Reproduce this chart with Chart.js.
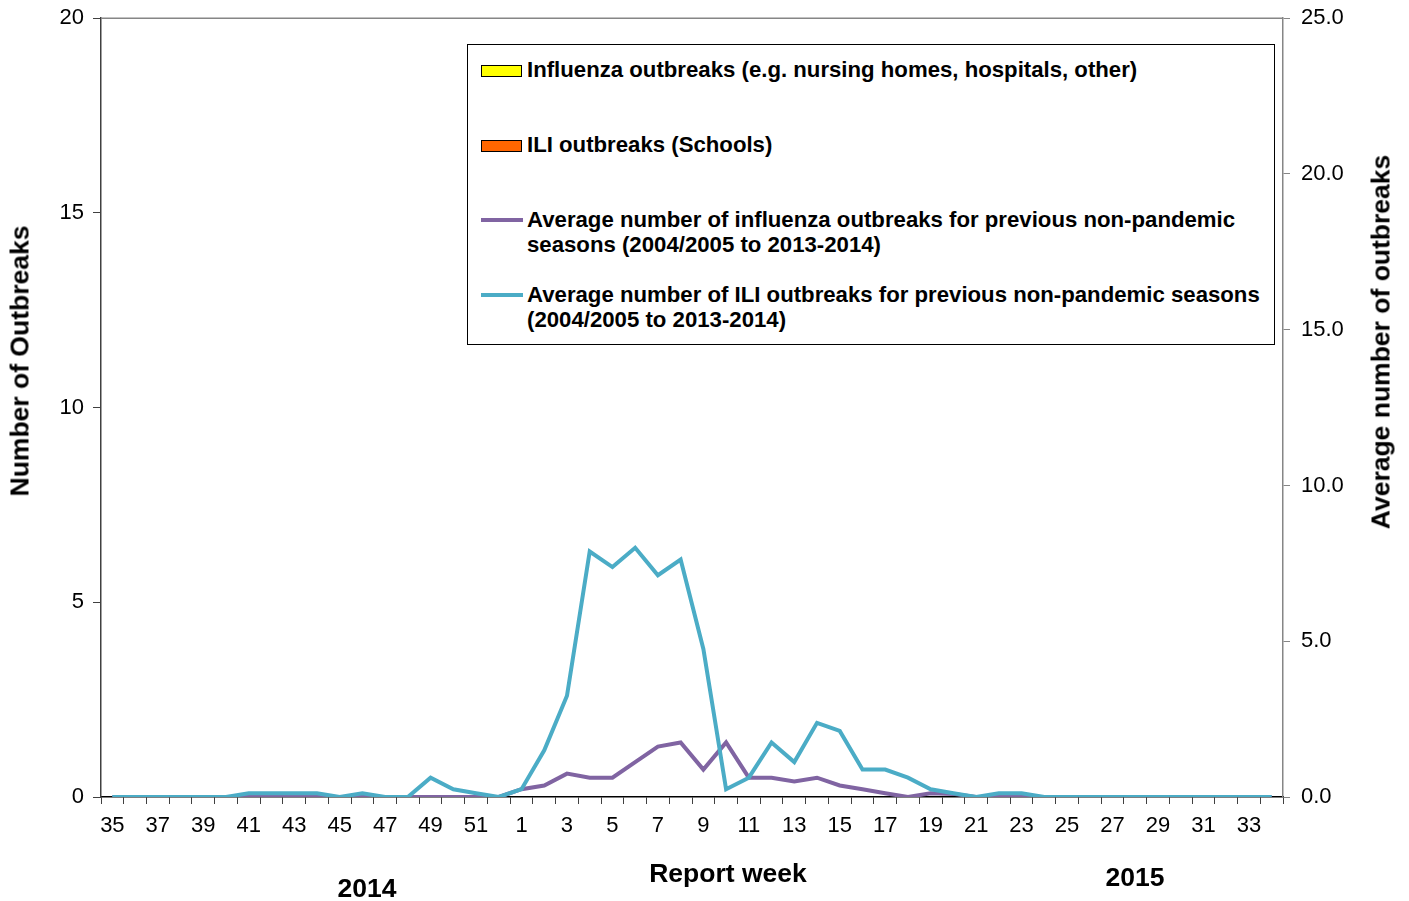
<!DOCTYPE html>
<html>
<head>
<meta charset="utf-8">
<title>Outbreaks by report week</title>
<script src="https://cdn.jsdelivr.net/npm/chart.js@4"></script>
<style>
  body { margin: 0; background: #fff; font-family: "Liberation Sans", Arial, sans-serif; overflow: hidden; }
  #wrap { position: relative; width: 1409px; height: 901px; overflow: hidden; }
  #myChart { position: absolute; left: 0; top: -6px; }
  .lbl { position: absolute; font-weight: bold; color: #000; white-space: nowrap; font-size: 26.5px; }
  .rot { transform: translate(-50%, -50%) rotate(-90deg); }
  .ctr { transform: translate(-50%, -50%); }
  #legendBox { position: absolute; left: 467px; top: 44px; width: 806px; height: 299px; border: 1px solid #000; background: #fff; }
  .item { position: absolute; left: 59px; font-size: 22.2px; font-weight: bold; line-height: 25px; }
  .swatch { position: absolute; left: 13px; width: 39px; height: 10px; border: 1px solid #000; }
  .line { position: absolute; left: 13px; width: 42px; height: 4px; }
</style>
</head>
<body>
<div id="wrap">
  <canvas id="myChart" width="1409" height="907"></canvas>

  <div class="lbl rot" style="left:20px; top:361px;">Number of Outbreaks</div>
  <div class="lbl rot" style="left:1381px; top:342px;">Average number of outbreaks</div>
  <div class="lbl ctr" style="left:728px; top:873px;">Report week</div>
  <div class="lbl ctr" style="left:367px; top:888px;">2014</div>
  <div class="lbl ctr" style="left:1135px; top:877px;">2015</div>

  <div id="legendBox">
    <div class="swatch" style="top:20px; background:#ffff00;"></div>
    <div class="item" style="top:12px;" id="leg0"></div>
    <div class="swatch" style="top:95px; background:#ff6600;"></div>
    <div class="item" style="top:87px;" id="leg1"></div>
    <div class="line" style="top:173px; background:#8064a2;"></div>
    <div class="item" style="top:162px;" id="leg2"></div>
    <div class="line" style="top:248px; background:#4bacc6;"></div>
    <div class="item" style="top:237px;" id="leg3"></div>
  </div>
</div>

<script>
//* DATA *//
let weeks = [35, 36, 37, 38, 39, 40, 41, 42, 43, 44, 45, 46, 47, 48, 49, 50, 51, 52,
  1, 2, 3, 4, 5, 6, 7, 8, 9, 10, 11, 12, 13, 14, 15, 16, 17, 18, 19, 20,
  21, 22, 23, 24, 25, 26, 27, 28, 29, 30, 31, 32, 33, 34];

// current season counts (none reported)
let fluOutbreaks = [0, 0, 0, 0, 0, 0, 0, 0, 0, 0, 0, 0, 0, 0, 0, 0, 0, 0,
  0, 0, 0, 0, 0, 0, 0, 0, 0, 0, 0, 0, 0, 0, 0, 0, 0, 0, 0, 0,
  0, 0, 0, 0, 0, 0, 0, 0, 0, 0, 0, 0, 0, 0];
let iliOutbreaks = [0, 0, 0, 0, 0, 0, 0, 0, 0, 0, 0, 0, 0, 0, 0, 0, 0, 0,
  0, 0, 0, 0, 0, 0, 0, 0, 0, 0, 0, 0, 0, 0, 0, 0, 0, 0, 0, 0,
  0, 0, 0, 0, 0, 0, 0, 0, 0, 0, 0, 0, 0, 0];

// averages for previous seasons (right axis)
let avgFlu = [0, 0, 0, 0, 0, 0, 0, 0, 0, 0, 0, 0, 0, 0, 0, 0, 0, 0,
  0.25, 0.37, 0.75, 0.62, 0.62, 1.12, 1.62, 1.75, 0.88, 1.75, 0.62, 0.62, 0.5, 0.62, 0.37, 0.25, 0.12, 0, 0.12, 0.1,
  0, 0, 0, 0, 0, 0, 0, 0, 0, 0, 0, 0, 0, 0];
let avgIli = [0, 0, 0, 0, 0, 0, 0.12, 0.12, 0.12, 0.12, 0, 0.12, 0, 0, 0.62, 0.25, 0.12, 0,
  0.25, 1.5, 3.25, 7.88, 7.38, 8.0, 7.12, 7.62, 4.75, 0.25, 0.62, 1.75, 1.12, 2.38, 2.12, 0.88, 0.88, 0.62, 0.25, 0.12,
  0, 0.12, 0.12, 0, 0, 0, 0, 0, 0, 0, 0, 0, 0, 0];

let leftTicks = [0, 5, 10, 15, 20];
let rightTicks = [0, 5, 10, 15, 20, 25];

let seriesNames = [
  'Influenza outbreaks (e.g. nursing homes, hospitals, other)',
  'ILI outbreaks (Schools)',
  'Average number of influenza outbreaks for previous non-pandemic seasons (2004/2005 to 2013-2014)',
  'Average number of ILI outbreaks for previous non-pandemic seasons (2004/2005 to 2013-2014)'
];

//*LEGEND TEXT*//
document.getElementById('leg0').textContent = seriesNames[0];
document.getElementById('leg1').textContent = seriesNames[1];
document.getElementById('leg2').innerHTML = 'Average number of influenza outbreaks for previous non-pandemic<br>seasons (2004/2005 to 2013-2014)';
document.getElementById('leg3').innerHTML = 'Average number of ILI outbreaks for previous non-pandemic seasons<br>(2004/2005 to 2013-2014)';

//*TOP BORDER PLUGIN*//
let topBorder = {
  id: 'topBorder',
  afterDraw(chart) {
    let a = chart.chartArea;
    let c = chart.ctx;
    c.save();
    c.strokeStyle = '#868686';
    c.lineWidth = 1.5;
    c.beginPath();
    c.moveTo(a.left, a.top);
    c.lineTo(a.right, a.top);
    c.stroke();
    c.restore();
  }
};

let ctx = document.getElementById('myChart');
let tickFont = { family: 'Liberation Sans', size: 22 };

let chartObj = {
  type: 'bar',
  data: {
    labels: weeks,
    datasets: [
      {
        label: seriesNames[0],
        data: fluOutbreaks,
        backgroundColor: '#ffff00',
        borderColor: '#000',
        borderWidth: 1,
        yAxisID: 'y',
        stack: 'cur',
        order: 2
      },
      {
        label: seriesNames[1],
        data: iliOutbreaks,
        backgroundColor: '#ff6600',
        borderColor: '#000',
        borderWidth: 1,
        yAxisID: 'y',
        stack: 'cur',
        order: 2
      },
      {
        type: 'line',
        label: seriesNames[2],
        data: avgFlu,
        borderColor: '#8064a2',
        borderWidth: 4,
        pointRadius: 0,
        tension: 0,
        yAxisID: 'y1',
        order: 1
      },
      {
        type: 'line',
        label: seriesNames[3],
        data: avgIli,
        borderColor: '#4bacc6',
        borderWidth: 4,
        pointRadius: 0,
        tension: 0,
        yAxisID: 'y1',
        order: 0
      }
    ]
  },
  options: {
    responsive: false,
    animation: false,
    layout: { padding: { top: 13, left: 0, right: 0, bottom: 0 } },
    plugins: {
      legend: { display: false },
      tooltip: { enabled: false }
    },
    scales: {
      x: {
        stacked: true,
        offset: true,
        grid: {
          offset: true,
          drawOnChartArea: false,
          tickLength: 7,
          tickColor: '#404040'
        },
        border: { color: '#000', width: 1.5 },
        ticks: {
          autoSkip: false,
          maxRotation: 0,
          color: '#000',
          padding: 9,
          font: tickFont,
          callback: function (val, idx) {
            return idx % 2 === 0 ? weeks[idx] : '';
          }
        },
        afterFit: function (scale) { scale.height = 104; }
      },
      y: {
        position: 'left',
        stacked: true,
        min: 0,
        max: 20,
        afterBuildTicks: function (scale) {
          scale.ticks = leftTicks.map(v => ({ value: v }));
        },
        grid: { drawOnChartArea: false, tickLength: 8, tickColor: '#404040' },
        border: { color: '#404040', width: 1.5 },
        ticks: {
          color: '#000',
          padding: 9,
          font: tickFont
        },
        afterFit: function (scale) { scale.width = 101; }
      },
      y1: {
        position: 'right',
        min: 0,
        max: 25,
        afterBuildTicks: function (scale) {
          scale.ticks = rightTicks.map(v => ({ value: v }));
        },
        grid: { drawOnChartArea: false, tickLength: 7, tickColor: '#868686' },
        border: { color: '#868686', width: 1.5 },
        ticks: {
          color: '#000',
          padding: 11,
          font: tickFont,
          callback: function (val) { return val.toFixed(1); }
        },
        afterFit: function (scale) { scale.width = 126; }
      }
    }
  },
  plugins: [topBorder]
};

new Chart(ctx, chartObj);
</script>
</body>
</html>
